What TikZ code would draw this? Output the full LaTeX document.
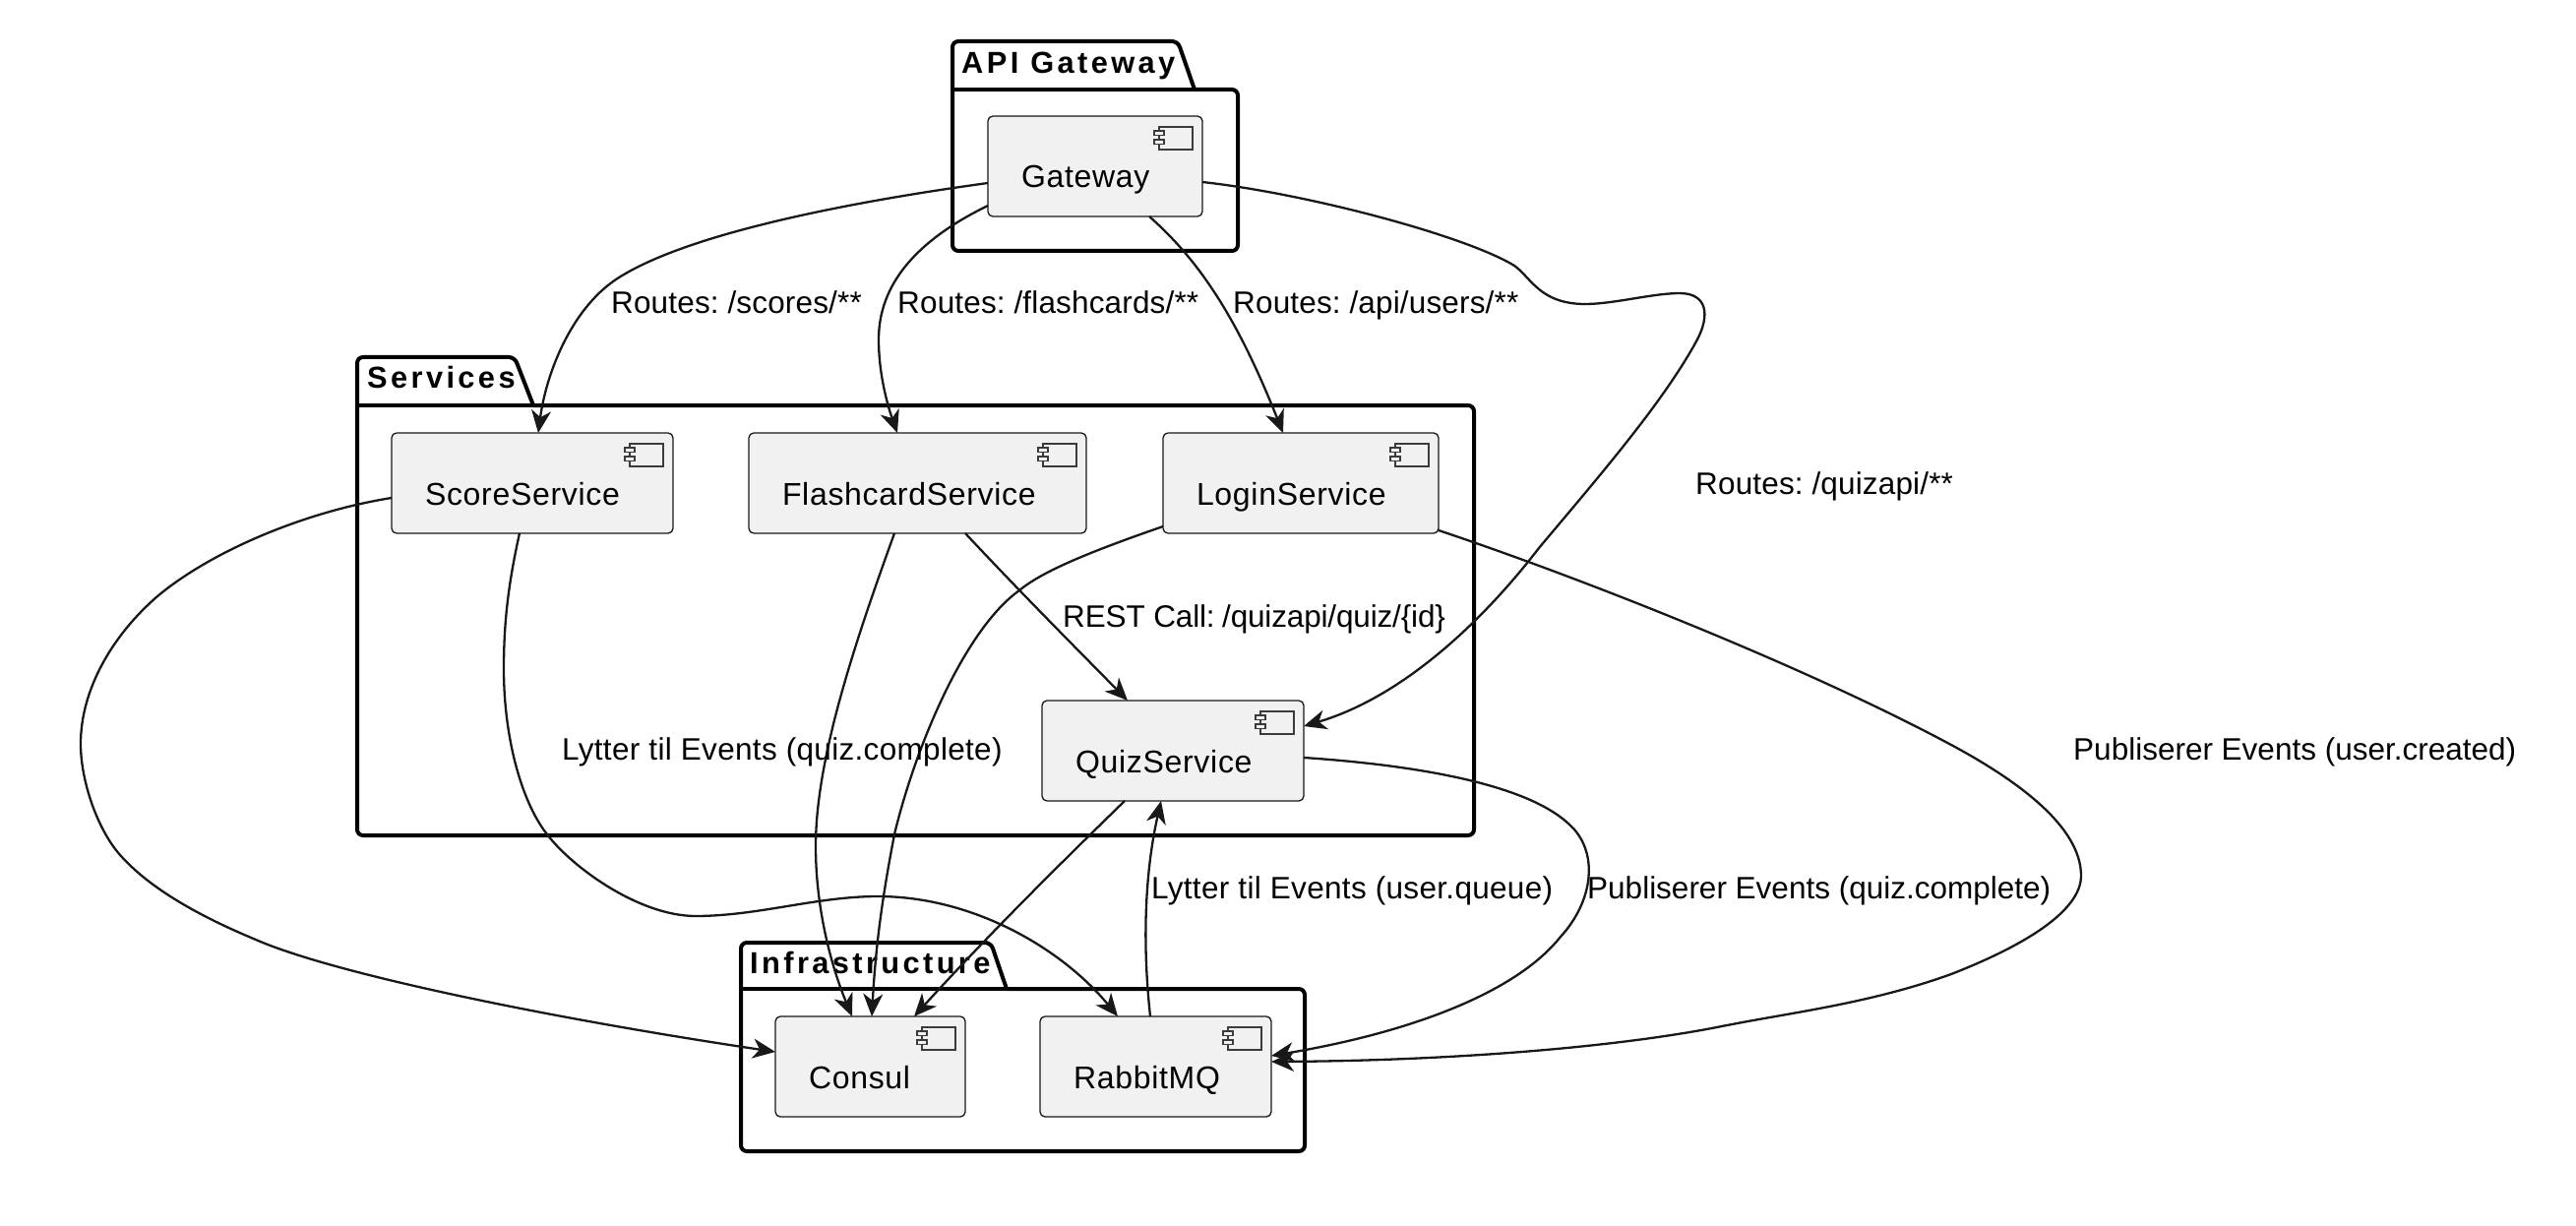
\documentclass[tikz,border=0pt]{standalone}
\usepackage{fontspec}
\setmainfont{Liberation Sans}
\newfontfamily\pkgfont[LetterSpace=11]{Liberation Sans}
\newfontfamily\compfont[LetterSpace=2.2]{Liberation Sans}
\newfontfamily\labelA[LetterSpace=1]{Liberation Sans}
\newfontfamily\labelC[LetterSpace=0.5]{Liberation Sans}
\newfontfamily\labelD[LetterSpace=-0.5]{Liberation Sans}
\usetikzlibrary{arrows.meta}
\definecolor{ink}{HTML}{181818}
\definecolor{boxfill}{HTML}{F1F1F1}
\newcommand{\comptext}[2]{\makebox[#1pt][l]{\hspace{34pt}#2}}
\newcommand{\compicon}[1]{%
  \draw[iconpart] ([xshift=-44pt,yshift=-11pt]#1.north east) rectangle ++(34,23);
  \draw[iconpart] ([xshift=-49pt,yshift=-15pt]#1.north east) rectangle ++(10,4.5);
  \draw[iconpart] ([xshift=-49pt,yshift=-24pt]#1.north east) rectangle ++(10,4.5);
}
\newcommand{\pkgshape}[7]{% L TT TR TB BT R B
  \draw[pkgline] (#1,#5) -- (#1,#2) -- (#3,#2) [sharp corners] -- (#4,#5) [rounded corners=6pt] -- (#6,#5) -- (#6,#7) -- (#1,#7) -- cycle;
  \draw[pkgline,rounded corners=0pt,line cap=butt] (#1,#5) -- (#4,#5);
}
\tikzset{
  x=1pt,y=-1pt,
  comp/.style={draw=ink,fill=boxfill,line width=1.3pt,rectangle,rounded corners=5pt,inner xsep=0pt,inner ysep=0pt,outer sep=0pt,anchor=north west,text height=73pt,text depth=29pt,font=\compfont\fontsize{32}{36}\selectfont},
  iconpart/.style={draw=ink!85,fill=boxfill,line width=1.3pt,rounded corners=0pt},
  pkgline/.style={draw=black,line width=4pt,rounded corners=6pt,line join=round},
  pkgtitle/.style={anchor=base west,inner sep=0pt,font=\pkgfont\bfseries\fontsize{30.8}{36}\selectfont},
  edgelabel/.style={anchor=base west,inner sep=0pt,font=\fontsize{31.5}{36}\selectfont},
  edge/.style={draw=ink,line width=2.3pt,-{Stealth[length=23pt,width=20pt,inset=7pt]}},
}
\begin{document}
\begin{tikzpicture}
\useasboundingbox (0,0) rectangle (2618,1246);
% packages
\pkgshape{968}{42}{1197}{1214}{91}{1258}{255}
\node[pkgtitle] (tapi) at (977,75) {API Gateway};
\pkgshape{363}{363}{523}{542}{412}{1498}{849}
\node[pkgtitle] (tsvc) at (373,395) {Services};
\pkgshape{753}{958}{1007}{1023}{1005}{1326}{1170}
\node[pkgtitle] (tinf) at (762,989) {Infrastructure};
% components
\node[comp] (gw) at (1004,118) {\comptext{218}{Gateway}};
\node[comp] (score) at (398,440) {\comptext{286}{ScoreService}};
\node[comp] (flash) at (761,440) {\comptext{343}{FlashcardService}};
\node[comp] (login) at (1182,440) {\comptext{280}{LoginService}};
\node[comp] (quiz) at (1059,712) {\comptext{266}{QuizService}};
\node[comp] (consul) at (788,1033) {\comptext{193}{Consul}};
\node[comp] (rabbit) at (1057,1033) {\comptext{235}{RabbitMQ}};
\compicon{gw}\compicon{score}\compicon{flash}\compicon{login}\compicon{quiz}\compicon{consul}\compicon{rabbit}
% connectors
\draw[edge] ([yshift=-68pt]gw.north west) .. controls (880,203) and (700,235) .. (626,284) .. controls (580,315) and (555,380) .. ([xshift=149pt]score.north west);
\draw[edge] ([yshift=-91pt]gw.north west) .. controls (930,245) and (893,290) .. (893,345) .. controls (893,380) and (902,412) .. ([xshift=151pt]flash.north west);
\draw[edge] ([xshift=164pt]gw.south west) .. controls (1225,270) and (1262,335) .. ([xshift=122pt]login.north west);
\draw[edge] ([yshift=-67pt]gw.north east) .. controls (1330,197) and (1490,240) .. (1539,270) .. controls (1556,282) and (1565,309) .. (1611,309) .. controls (1640,309) and (1680,298) .. (1707,298) .. controls (1735,298) and (1738,320) .. (1725,345) .. controls (1690,410) and (1620,490) .. (1564,557) .. controls (1500,640) and (1420,710) .. ([yshift=-26pt]quiz.north east);
\draw[edge] ([yshift=-66pt]score.north west) .. controls (310,520) and (215,560) .. (160,606) .. controls (115,645) and (82,700) .. (82,756) .. controls (82,795) and (100,845) .. (123,870) .. controls (150,900) and (195,928) .. (260,955) .. controls (340,990) and (560,1035) .. ([yshift=-36pt]consul.north west);
\draw[edge] ([xshift=130pt]score.south west) .. controls (515,600) and (512,640) .. (512,680) .. controls (512,745) and (528,812) .. (556,848) .. controls (582,882) and (650,931) .. (707,931) .. controls (770,931) and (830,911) .. (892,911) .. controls (990,911) and (1080,965) .. ([xshift=79pt]rabbit.north west);
\draw[edge] ([xshift=148pt]flash.south west) .. controls (870,650) and (829,770) .. (829,860) .. controls (829,930) and (848,990) .. ([xshift=78pt]consul.north west);
\draw[edge] ([xshift=220pt]flash.south west) .. controls (1040,605) and (1090,655) .. ([xshift=87pt]quiz.north west);
\draw[edge] ([yshift=-95pt]login.north west) .. controls (1110,560) and (1060,580) .. (1036,600) .. controls (980,640) and (930,760) .. (909,848) .. controls (897,910) and (890,960) .. ([xshift=98pt]consul.north west);
\draw[edge] ([yshift=-99pt]login.north east) .. controls (1600,585) and (1830,675) .. (1983,757) .. controls (2050,793) and (2115,840) .. (2115,890) .. controls (2115,925) and (2060,960) .. (1983,990) .. controls (1900,1020) and (1820,1029) .. (1750,1043) .. controls (1640,1065) and (1470,1078) .. ([yshift=-46pt]rabbit.north east);
\draw[edge] ([xshift=84pt]quiz.south west) .. controls (1070,885) and (1000,955) .. ([xshift=141pt]consul.north west);
\draw[edge] ([xshift=112pt]rabbit.north west) .. controls (1160,950) and (1165,880) .. ([xshift=121pt]quiz.south west);
\draw[edge] ([yshift=-58pt]quiz.north east) .. controls (1430,777) and (1550,795) .. (1595,838) .. controls (1625,865) and (1620,915) .. (1586,952) .. controls (1540,1010) and (1430,1050) .. ([yshift=-40pt]rabbit.north east);
% labels
\node[edgelabel] (l1) at (621,319) {\labelC Routes:\hspace{-3pt} /scores/**};
\node[edgelabel] (l2) at (912,319) {\labelC Routes:\hspace{-3pt} /flashcards/**};
\node[edgelabel] (l3) at (1253,319) {\labelC Routes:\hspace{-3pt} /api/users/**};
\node[edgelabel] (l4) at (1723,502) {\labelC Routes:\hspace{-3pt} /quizapi/**};
\node[edgelabel] (l5) at (1080,637) {\labelD REST Call:\hspace{-4pt} /quizapi/quiz/\{id\}};
\node[edgelabel] (l6) at (571,772) {\labelA Lytter til Events (quiz.complete)};
\node[edgelabel] (l7) at (2107,772) {Publiserer Events (user.created)};
\node[edgelabel] (l8) at (1170,913) {\labelA Lytter til Events (user.queue)};
\node[edgelabel] (l9) at (1613,913) {Publiserer Events (quiz.complete)};
\end{tikzpicture}
\end{document}
